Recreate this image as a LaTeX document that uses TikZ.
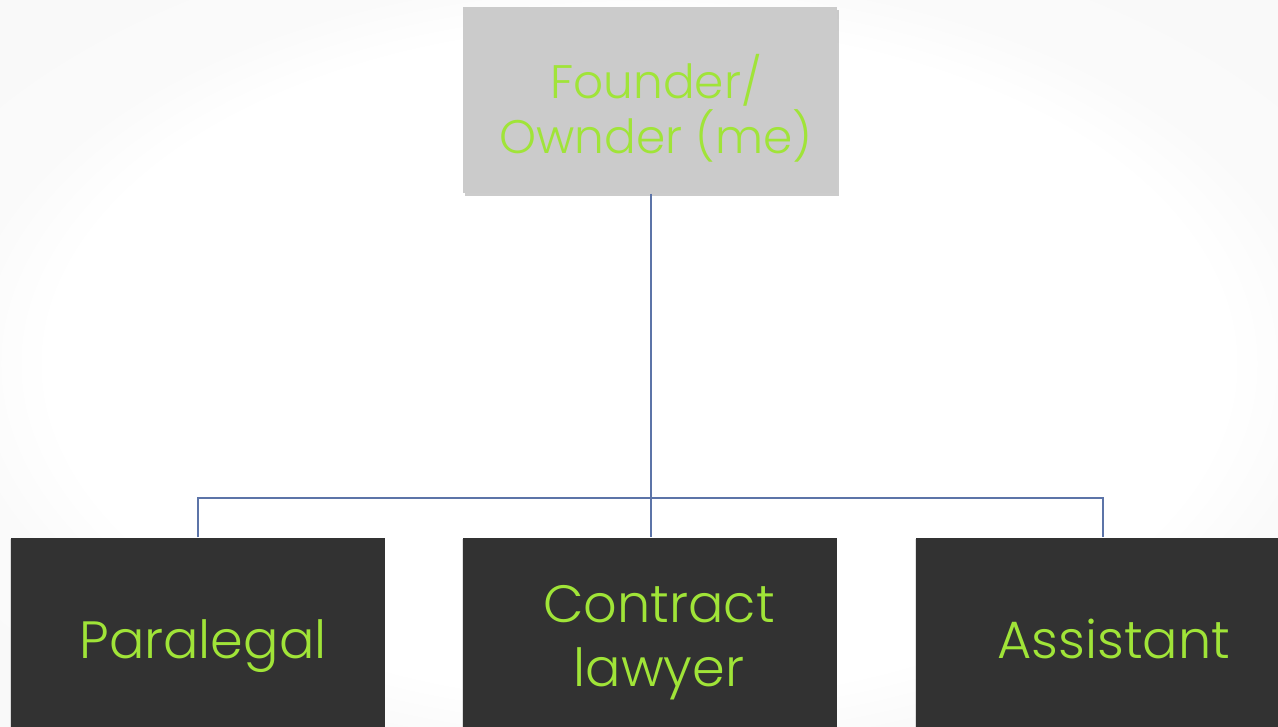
\documentclass[tikz,border=0pt]{standalone}
\usepackage{fontspec}
\setmainfont{Poppins}[UprightFont=* Light]
\usetikzlibrary{shadows}
\definecolor{lime}{RGB}{160,228,56}
\definecolor{topgray}{RGB}{203,203,203}
\definecolor{darkbox}{RGB}{50,50,50}
\definecolor{linkblue}{RGB}{92,116,168}
\pgfdeclareradialshading{vign}{\pgfpoint{0bp}{0bp}}{color(0bp)=(white); color(23bp)=(white); color(27bp)=(black!2); color(50bp)=(black!3)}
\begin{document}
\begin{tikzpicture}[x=1pt,y=-1pt,
  topbox/.style={fill=topgray, draw=none, minimum width=374pt, minimum height=186pt, inner sep=0pt,
    drop shadow={shadow xshift=1.5pt, shadow yshift=-3pt, opacity=0.2, fill=black}},
  lowbox/.style={fill=darkbox, draw=none, minimum width=374pt, minimum height=189pt, inner sep=0pt,
    drop shadow={shadow xshift=-1pt, shadow yshift=-1pt, opacity=0.12, fill=black}},
  toptext/.style={text=lime, align=center, inner sep=0pt, font=\fontsize{47}{55}\selectfont},
  lowtext/.style={text=lime, align=center, inner sep=0pt, font=\fontsize{52.5}{64}\selectfont},
  link/.style={draw=linkblue, line width=1.5pt}]
\useasboundingbox (0,0) rectangle (1278,727);
\shade[shading=vign] (0,0) rectangle (1278,727);
\node[topbox] (top) at (650,100.5) {};
\node[lowbox] (pl) at (198,632) {};
\node[lowbox] (cl) at (650,632) {};
\node[lowbox] (as) at (1103,632) {};
\node[toptext] (ttop) at (656,108) {Founder/\\Ownder (me)};
\node[lowtext, anchor=base] (tpl) at (203,658) {Paralegal};
\node[lowtext] (tcl) at (659,643) {Contract\\lawyer};
\node[lowtext, anchor=base] (tas) at (1114,658) {Assistant};
\coordinate (bus) at (651,498);
\draw[link] (top.south -| bus) -- (cl.north -| bus);
\draw[link] (pl.north) |- (bus) -| (as.north);
\end{tikzpicture}
\end{document}
